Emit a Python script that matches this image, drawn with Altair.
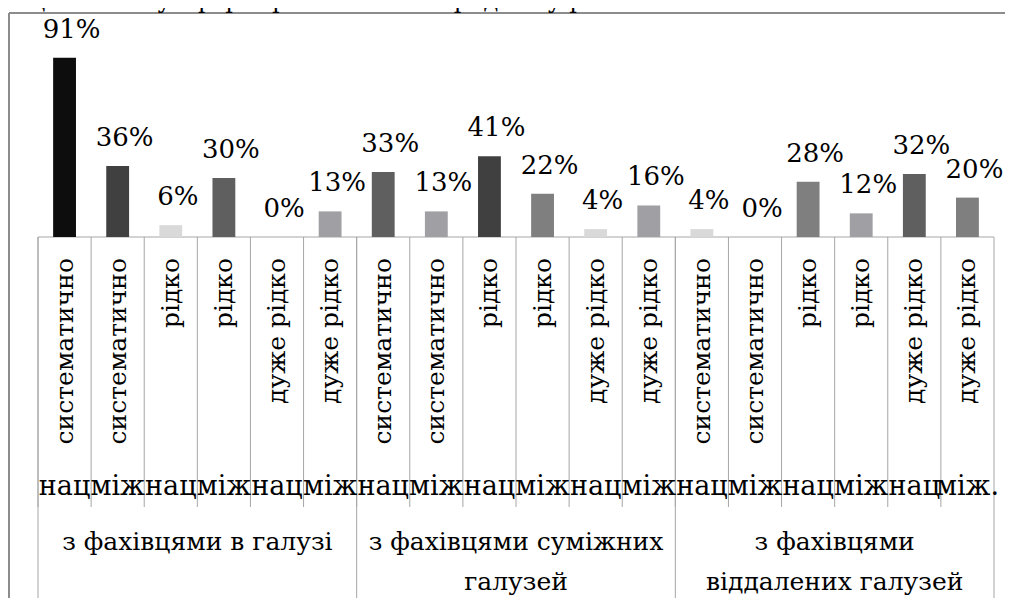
import altair as alt
import pandas as pd

# ---- data ----
groups = ["з фахівцями в галузі", "з фахівцями суміжних\nгалузей", "з фахівцями\nвіддалених галузей"]
frequency = ["систематично", "систематично", "рідко", "рідко", "дуже рідко", "дуже рідко"] * 3
scope = ["нац", "між", "нац", "між", "нац", "між",
         "нац", "між", "нац", "між", "нац", "між",
         "нац", "між", "нац", "між", "нац", "між."]
values = [91, 36, 6, 30, 0, 13,
          33, 13, 41, 22, 4, 16,
          4, 0, 28, 12, 32, 20]
colors = ["#0d0d0d", "#404040", "#d9d9d9", "#5f5f5f", "#a09fa4", "#a09fa4",
          "#5f5f5f", "#a09fa4", "#404040", "#7f7f7f", "#d9d9d9", "#a09fa4",
          "#d9d9d9", "#a09fa4", "#7f7f7f", "#a09fa4", "#5f5f5f", "#7f7f7f"]
header = "раці вчених у сфері права на міжнародному рівні."

keys = [f"k{i:02d}" for i in range(len(values))]
df = pd.DataFrame({
    "key": keys,
    "idx": list(range(len(values))),
    "freq": frequency,
    "scope": scope,
    "value": values,
    "label": [f"{v}%" for v in values],
    "color": colors,
})
gdf = pd.DataFrame({"key": [keys[i * 6 + 3] for i in range(3)], "group": groups})
one = pd.DataFrame({"a": [0]})

W, H = 956, 197
FONT = "DejaVu Serif"

xs = alt.Scale(domain=keys, paddingInner=0, paddingOuter=0)
ys = alt.Scale(domain=[0, 100], nice=False, zero=True)


def X(**kw):
    return alt.X("key:N", scale=xs, axis=None, **kw)


bars = alt.Chart(df).mark_bar(width={"band": 0.43}).encode(
    x=X(),
    y=alt.Y("value:Q", scale=ys, axis=None),
    color=alt.Color("color:N", scale=None),
)

labels = alt.Chart(df).mark_text(
    font=FONT, fontSize=26, baseline="alphabetic", align="center", dy=-20, dx=7, color="#000"
).encode(x=X(), y=alt.Y("value:Q", scale=ys, axis=None), text="label:N")

baseline = alt.Chart(one).mark_rule(color="#a6a6a6", strokeWidth=1).encode(
    x=alt.value(0), x2=alt.value(W), y=alt.value(H)
)

seps = alt.Chart(df).mark_rule(color="#a6a6a6", strokeWidth=1).encode(
    x=X(bandPosition=0), y=alt.value(H), y2=alt.value(467)
)
grp_seps = alt.Chart(df).transform_filter("datum.idx % 6 == 0").mark_rule(
    color="#a6a6a6", strokeWidth=1
).encode(x=X(bandPosition=0), y=alt.value(H), y2=alt.value(562))
end_sep = alt.Chart(df).transform_filter(f"datum.idx == {len(values) - 1}").mark_rule(
    color="#a6a6a6", strokeWidth=1
).encode(x=X(bandPosition=1), y=alt.value(H), y2=alt.value(562))

freq_txt = alt.Chart(df).mark_text(
    font=FONT, fontSize=25, angle=270, align="right", baseline="middle", color="#000"
).encode(x=X(), y=alt.value(218), text="freq:N")

scope_txt = alt.Chart(df).mark_text(
    font=FONT, fontSize=27, align="center", baseline="alphabetic", color="#000"
).encode(x=X(), y=alt.value(455), text="scope:N")

grp_txt = alt.Chart(gdf).mark_text(
    font=FONT, fontSize=25, align="center", baseline="alphabetic", lineBreak="\n",
    lineHeight=40, color="#000"
).encode(x=X(bandPosition=0), y=alt.value(510), text="group:N")

border_top = alt.Chart(one).mark_rule(color="#8c8c8c", strokeWidth=2).encode(
    x=alt.value(-29), x2=alt.value(W + 11), y=alt.value(-27)
)
border_left = alt.Chart(one).mark_rule(color="#8c8c8c", strokeWidth=2).encode(
    x=alt.value(-29), y=alt.value(-27), y2=alt.value(600)
)
head = alt.Chart(one).mark_text(
    font=FONT, fontSize=24, align="left", baseline="alphabetic", color="#000",
    text=header
).encode(x=alt.value(-38), y=alt.value(-32))

chart = alt.layer(
    border_top, border_left, head, baseline, seps, grp_seps, end_sep,
    bars, labels, freq_txt, scope_txt, grp_txt
).properties(
    width=W, height=H,
    autosize=alt.AutoSizeParams(type="none"),
    padding={"left": 30, "top": 32, "right": 11, "bottom": 361},
    background="white",
).configure_view(stroke=None)

chart.save("out.html", embed_options={"renderer": "svg", "actions": False})
